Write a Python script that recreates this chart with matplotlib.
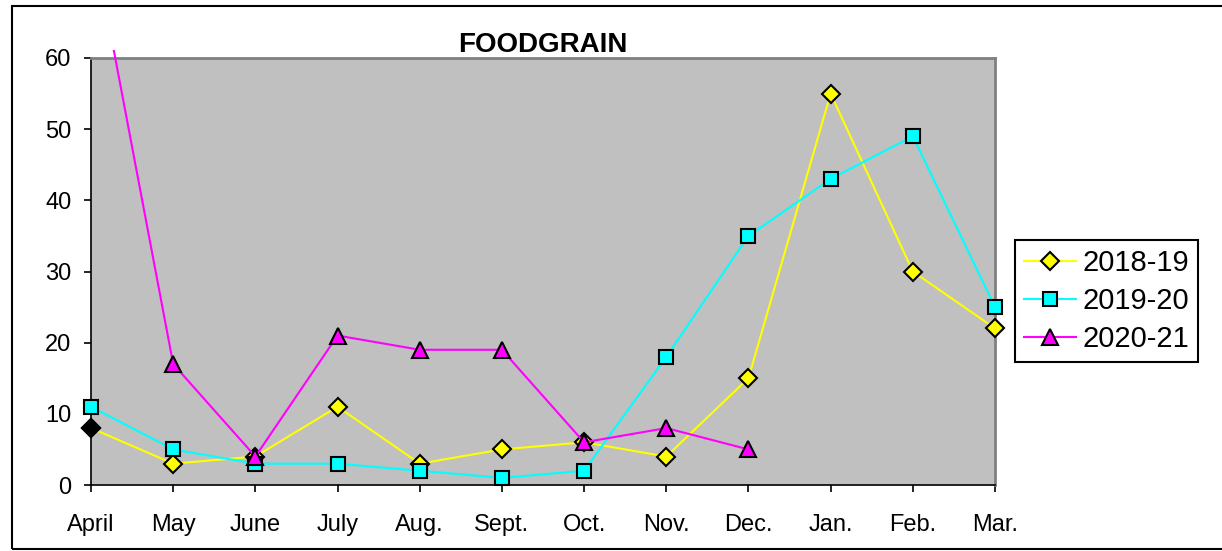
import matplotlib
matplotlib.use('Agg')
import matplotlib.pyplot as plt
from matplotlib.patches import Rectangle

plt.rcParams['font.family'] = ['Liberation Sans', 'DejaVu Sans']

# data
months = ['April', 'May', 'June', 'July', 'Aug.', 'Sept.', 'Oct.', 'Nov.', 'Dec.', 'Jan.', 'Feb.', 'Mar.']
s2018_19 = [8, 3, 4, 11, 3, 5, 6, 4, 15, 55, 30, 22]
s2019_20 = [11, 5, 3, 3, 2, 1, 2, 18, 35, 43, 49, 25]
s2020_21 = [78, 17, 4, 21, 19, 19, 6, 8, 5]
y_ticks = [0, 10, 20, 30, 40, 50, 60]

fig = plt.figure(figsize=(12.22, 5.51), dpi=100)
ax = fig.add_axes([91 / 1222, 66 / 551, 904 / 1222, 427 / 551])
ax.set_facecolor('#C0C0C0')

x = list(range(len(months)))

# outer chart frame
fig.patches.append(Rectangle((12 / 1222, 2 / 551), 1.0, 543 / 551, transform=fig.transFigure,
                             fill=False, edgecolor='black', linewidth=1.5))

l1, = ax.plot(x, s2018_19, color='#FFFF00', lw=1.5, marker='D', ms=9.5,
              mfc='#FFFF00', mec='black', mew=1.5, label='2018-19', zorder=3, clip_on=False)
# first point is shown highlighted in black
ax.plot(x[0], s2018_19[0], marker='D', ms=9.5, mfc='black', mec='black', mew=1.5,
        ls='none', zorder=4, clip_on=False)
l2, = ax.plot(x, s2019_20, color='#00FFFF', lw=1.5, marker='s', ms=10,
              mfc='#00FFFF', mec='black', mew=1.5, label='2019-20', zorder=3, clip_on=False)
l3, = ax.plot(x[:len(s2020_21)], s2020_21, color='#FF00FF', lw=1.5, marker='^', ms=11,
              mfc='#FF00FF', mec='black', mew=1.5, label='2020-21', zorder=3)
# let the off-scale line poke slightly above the plot area like the original
l3.set_clip_path(Rectangle((-0.05, -0.1), 1.1, 1.119, transform=ax.transAxes))

ax.set_xlim(0, len(months) - 1)
ax.set_ylim(0, 60)
ax.set_xticks(x)
ax.set_xticklabels(months)
ax.set_yticks(y_ticks)
ax.tick_params(axis='both', labelsize=17, direction='out', length=5, width=1.2, color='black')
ax.tick_params(axis='x', pad=16)
ax.tick_params(axis='y', pad=9)

for side in ['top', 'right']:
    ax.spines[side].set_color('#808080')
    ax.spines[side].set_linewidth(2)
for side in ['left', 'bottom']:
    ax.spines[side].set_color('black')
    ax.spines[side].set_linewidth(1.2)

ax.set_title('FOODGRAIN', fontsize=20, fontweight='bold', pad=4)

leg = fig.legend(handles=[l1, l2, l3], loc='upper left', bbox_to_anchor=(1015 / 1222, 311 / 551),
                 bbox_transform=fig.transFigure, borderaxespad=0, fontsize=21, fancybox=False,
                 edgecolor='black', framealpha=1, handlelength=1.8, handletextpad=0.2,
                 labelspacing=0.35, borderpad=0.3)
leg.get_frame().set_linewidth(1.5)

fig.savefig('out.png', dpi=100)
